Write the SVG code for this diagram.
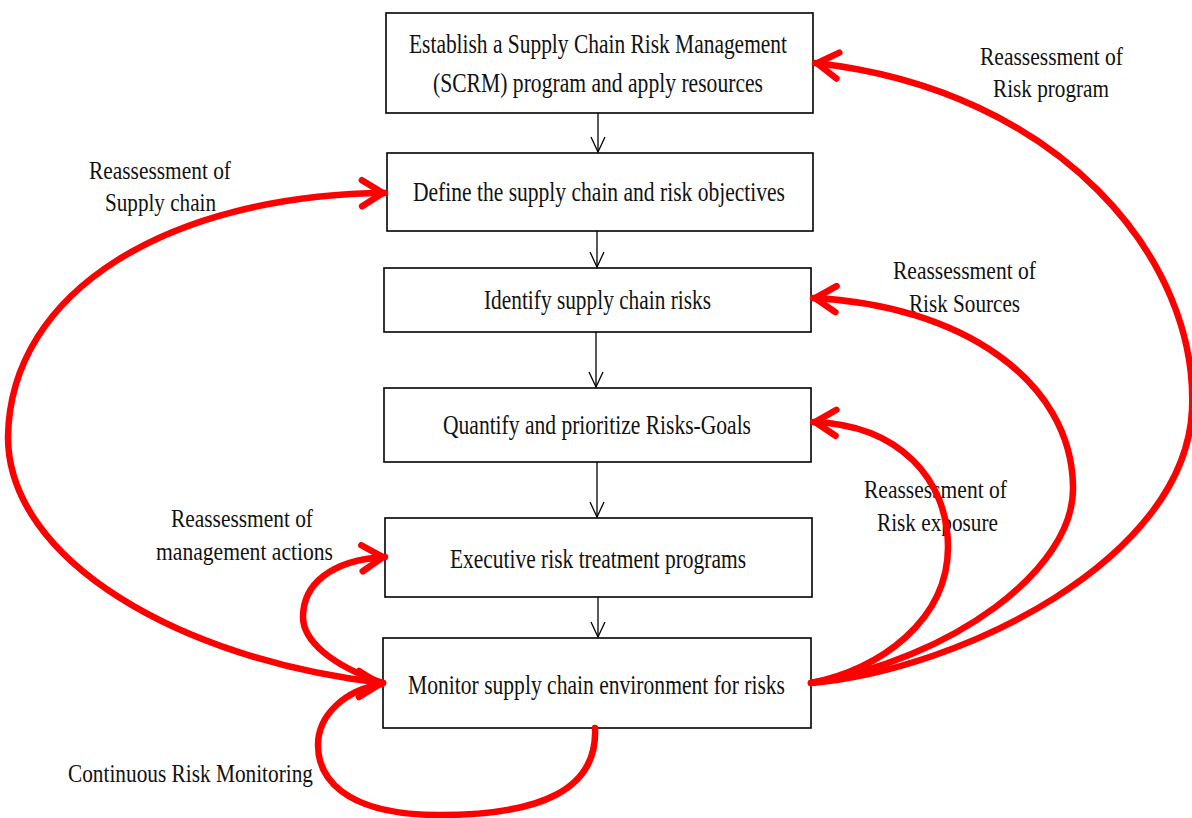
<svg xmlns="http://www.w3.org/2000/svg" width="1192" height="818" viewBox="0 0 1192 818">
<style>
.box{fill:#fff;stroke:#000;stroke-width:1.6}
.t{font-family:"Liberation Serif","Times New Roman",serif;font-size:27px;fill:#111}
.l{font-family:"Liberation Serif","Times New Roman",serif;font-size:26px;fill:#111}
.blk{stroke:#000;stroke-width:1.3;fill:none;marker-end:url(#bh)}
.red{stroke:#ff0000;stroke-width:6.5;fill:none;stroke-linecap:round}
</style>
<defs>
<marker id="bh" markerUnits="userSpaceOnUse" orient="auto" markerWidth="30" markerHeight="30" refX="0" refY="0" viewBox="-20 -15 30 30" overflow="visible">
<path d="M-15,-7 L0,0 L-15,7" fill="none" stroke="#000" stroke-width="1.3"/>
</marker>
<marker id="rh" markerUnits="userSpaceOnUse" orient="auto" markerWidth="40" markerHeight="40" refX="2" refY="0" viewBox="-30 -20 40 40" overflow="visible">
<path d="M-21,-13 L0,0 L-21,13" fill="none" stroke="#ff0000" stroke-width="6.5" stroke-linecap="round" stroke-linejoin="round"/>
</marker>
<marker id="rh0" markerUnits="userSpaceOnUse" orient="0" markerWidth="40" markerHeight="40" refX="2" refY="0" viewBox="-30 -20 40 40" overflow="visible">
<path d="M-21,-13 L0,0 L-21,13" fill="none" stroke="#ff0000" stroke-width="6.5" stroke-linecap="round" stroke-linejoin="round"/>
</marker>
</defs>
<rect width="1192" height="818" fill="#fff"/>

<g id="labels">
<text class="l" x="980" y="65" textLength="143" lengthAdjust="spacingAndGlyphs">Reassessment of</text>
<text class="l" x="993" y="97" textLength="116" lengthAdjust="spacingAndGlyphs">Risk program</text>
<text class="l" x="89" y="179" textLength="142" lengthAdjust="spacingAndGlyphs">Reassessment of</text>
<text class="l" x="105" y="211" textLength="111" lengthAdjust="spacingAndGlyphs">Supply chain</text>
<text class="l" x="893" y="279" textLength="143" lengthAdjust="spacingAndGlyphs">Reassessment of</text>
<text class="l" x="909" y="312" textLength="111" lengthAdjust="spacingAndGlyphs">Risk Sources</text>
<text class="l" x="864" y="498" textLength="143" lengthAdjust="spacingAndGlyphs">Reassessment of</text>
<text class="l" x="877" y="531" textLength="121" lengthAdjust="spacingAndGlyphs">Risk exposure</text>
<text class="l" x="171" y="527" textLength="142" lengthAdjust="spacingAndGlyphs">Reassessment of</text>
<text class="l" x="156" y="560" textLength="177" lengthAdjust="spacingAndGlyphs">management actions</text>
<text class="l" x="68" y="782" textLength="245" lengthAdjust="spacingAndGlyphs">Continuous Risk Monitoring</text>
</g>

<g id="n1">
<rect class="box" x="386" y="13" width="427" height="100"/>
<text class="t" x="409" y="53" textLength="378" lengthAdjust="spacingAndGlyphs">Establish a Supply Chain Risk Management</text>
<text class="t" x="433" y="92" textLength="330" lengthAdjust="spacingAndGlyphs">(SCRM) program and apply resources</text>
</g>
<g id="n2">
<rect class="box" x="387" y="153" width="426" height="78"/>
<text class="t" x="413" y="201" textLength="372" lengthAdjust="spacingAndGlyphs">Define the supply chain and risk objectives</text>
</g>
<g id="n3">
<rect class="box" x="384" y="268" width="427" height="64"/>
<text class="t" x="484" y="309" textLength="227" lengthAdjust="spacingAndGlyphs">Identify supply chain risks</text>
</g>
<g id="n4">
<rect class="box" x="384" y="388" width="427" height="74"/>
<text class="t" x="443" y="434" textLength="308" lengthAdjust="spacingAndGlyphs">Quantify and prioritize Risks-Goals</text>
</g>
<g id="n5">
<rect class="box" x="385" y="518" width="427" height="79"/>
<text class="t" x="450" y="568" textLength="296" lengthAdjust="spacingAndGlyphs">Executive risk treatment programs</text>
</g>
<g id="n6">
<rect class="box" x="383" y="638" width="428" height="90"/>
<text class="t" x="408" y="694" textLength="377" lengthAdjust="spacingAndGlyphs">Monitor supply chain environment for risks</text>
</g>

<g id="connectors">
<path class="blk" d="M598,113 L598,152"/>
<path class="blk" d="M597,231 L597,267"/>
<path class="blk" d="M596,332 L596,387"/>
<path class="blk" d="M597,462 L597,517"/>
<path class="blk" d="M598,597 L598,637"/>

<path class="red" marker-end="url(#rh)" d="M811,683 C960,670 1185,560 1192,410 C1199,260 1060,90 815,63"/>
<path class="red" marker-end="url(#rh)" d="M383,683 C180,660 8,560 8,437 C10,290 170,195 385,193"/>
<path class="red" marker-end="url(#rh)" d="M811,683 C950,660 1075,570 1073,487 C1072,380 960,305 813,298"/>
<path class="red" marker-end="url(#rh)" d="M811,683 C880,670 948,620 948,547 C948,480 900,425 813,422"/>
<path class="red" marker-end="url(#rh)" d="M383,683 C330,665 303,640 303,617 C303,585 330,560 385,557"/>
<path class="red" marker-end="url(#rh0)" d="M595,728 C598,790 540,815 440,815 C340,815 318,775 318,745 C318,715 345,690 382,684"/>
</g>
</svg>
